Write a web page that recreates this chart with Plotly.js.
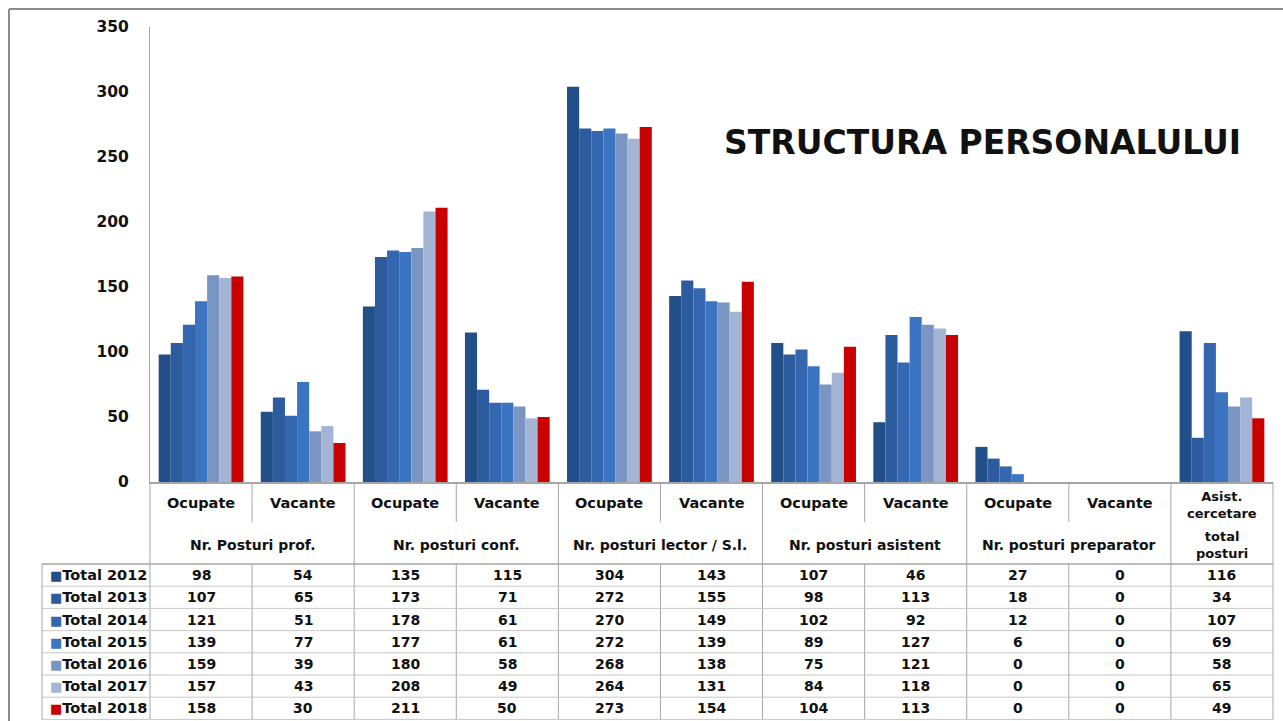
<!DOCTYPE html>
<html>
<head>
<meta charset="utf-8">
<script src="https://cdn.plot.ly/plotly-3.0.1.min.js"></script>
<style>
html,body{margin:0;padding:0;background:#fff;}
#chart{width:1283px;height:721px;}
</style>
</head>
<body>
<div id="chart"></div>
<script>
// ---- data ----
const subLabels = ['Ocupate','Vacante','Ocupate','Vacante','Ocupate','Vacante','Ocupate','Vacante','Ocupate','Vacante','Asist.<br>cercetare'];
const groupLabels = ['Nr. Posturi prof.','Nr. posturi conf.','Nr. posturi lector / S.l.','Nr. posturi asistent','Nr. posturi preparator','total<br>posturi'];
const groupSpans = [2,2,2,2,2,1];
const seriesNames = ['Total 2012','Total 2013','Total 2014','Total 2015','Total 2016','Total 2017','Total 2018'];
const total2012 = [98,54,135,115,304,143,107,46,27,0,116];
const total2013 = [107,65,173,71,272,155,98,113,18,0,34];
const total2014 = [121,51,178,61,270,149,102,92,12,0,107];
const total2015 = [139,77,177,61,272,139,89,127,6,0,69];
const total2016 = [159,39,180,58,268,138,75,121,0,0,58];
const total2017 = [157,43,208,49,264,131,84,118,0,0,65];
const total2018 = [158,30,211,50,273,154,104,113,0,0,49];
const seriesValues = [total2012,total2013,total2014,total2015,total2016,total2017,total2018];
const seriesColors = ['#234F88','#2C5C9E','#3467B0','#3B75C2','#7B95C2','#A3B4D4','#C80000'];
const chartTitle = 'STRUCTURA PERSONALULUI';

// ---- geometry helpers (pixels -> paper) ----
const L = 150, R = 1273, T = 27, B = 482;
const W = 1283, H = 721;
const nCat = subLabels.length;
const px = x => (x - L) / (R - L);
const py = y => (B - y) / (B - T);
const colX = i => (i + 0.5) / nCat;
const bnd = k => k / nCat;

const xIdx = subLabels.map((_, i) => i);

const traces = seriesNames.map((name, s) => ({
  type: 'bar',
  name: name,
  x: xIdx,
  y: seriesValues[s],
  marker: {color: seriesColors[s], line: {width: 0}},
  hoverinfo: 'skip'
}));

const gridGray = '#A6A6A6';
const rowGray = '#C8C8C8';
const shapes = [];
const line = (x0, y0, x1, y1, color, width) => shapes.push({
  type: 'line', xref: 'paper', yref: 'paper', x0, y0, x1, y1,
  line: {color, width}
});

// outer chart border
line(px(9), py(9), px(9), py(H + 5), '#8C8C8C', 2);
line(px(9), py(9), px(W + 5), py(9), '#8C8C8C', 2);

// table geometry
const headTop = 482, subBottom = 522, bodyTop = 564, rowH = 22.2, nRows = seriesNames.length;
const bodyBottom = bodyTop + rowH * nRows;

// group boundaries (full height)
let k = 0;
const groupBounds = [0];
groupSpans.forEach(sp => { k += sp; groupBounds.push(k); });
groupBounds.forEach(b => line(bnd(b), py(headTop), bnd(b), py(bodyBottom), gridGray, 1));
// inner boundaries (within a group)
for (let b = 1; b < nCat; b++) {
  if (groupBounds.includes(b)) continue;
  line(bnd(b), py(headTop), bnd(b), py(subBottom), gridGray, 1);
  line(bnd(b), py(bodyTop), bnd(b), py(bodyBottom), gridGray, 1);
}
// horizontal lines
for (let j = 0; j <= nRows; j++) {
  line(px(42), py(bodyTop + rowH * j), 1, py(bodyTop + rowH * j), j === 0 ? gridGray : rowGray, j === 0 ? 1.5 : 1);
}
line(px(42), py(bodyTop), px(42), py(bodyBottom), gridGray, 1);

const annotations = [];
const bold = (size) => ({family: 'DejaVu Sans', size, color: '#111', weight: 'bold'});

// sub labels
subLabels.forEach((t, i) => annotations.push({
  xref: 'paper', yref: 'paper', x: colX(i), y: py(i === nCat - 1 ? 505 : 503),
  text: t, showarrow: false, font: bold(i === nCat - 1 ? 13 : 14.5), xanchor: 'center', yanchor: 'middle'
}));
// group labels
let start = 0;
groupLabels.forEach((t, g) => {
  const sp = groupSpans[g];
  const cx = (start + sp / 2) / nCat;
  const last = g === groupLabels.length - 1;
  annotations.push({
    xref: 'paper', yref: 'paper', x: cx, y: py(545),
    text: t, showarrow: false, font: bold(last ? 13 : 14), xanchor: 'center', yanchor: 'middle'
  });
  start += sp;
});
// row labels and values
seriesNames.forEach((name, s) => {
  const yc = py(bodyTop + rowH * (s + 0.5));
  annotations.push({
    xref: 'paper', yref: 'paper', x: px(48), y: yc, xanchor: 'left', yanchor: 'middle',
    text: '<span style="color:' + seriesColors[s] + ';font-size:13px">■</span>' + name,
    showarrow: false, font: bold(14.5)
  });
  seriesValues[s].forEach((v, i) => annotations.push({
    xref: 'paper', yref: 'paper', x: colX(i), y: yc, xanchor: 'center', yanchor: 'middle',
    text: String(v), showarrow: false, font: bold(14)
  }));
});
// title
annotations.push({
  xref: 'paper', yref: 'paper', x: px(982), y: py(142), xanchor: 'center', yanchor: 'middle',
  text: chartTitle, showarrow: false,
  font: {family: 'DejaVu Sans', size: 33, color: '#111', weight: 'bold'}
});

const layout = {
  width: W, height: H,
  margin: {l: L, r: W - R, t: T, b: H - B, pad: 0},
  paper_bgcolor: '#fff', plot_bgcolor: '#fff',
  barmode: 'group', bargap: 0.17, bargroupgap: 0,
  showlegend: false,
  xaxis: {
    range: [-0.5, nCat - 0.5], showticklabels: false, showgrid: false, zeroline: false,
    showline: true, linecolor: gridGray, linewidth: 1.5, ticks: '', fixedrange: true
  },
  yaxis: {
    range: [0, 350], dtick: 50, showgrid: false, zeroline: false,
    showline: true, linecolor: gridGray, linewidth: 1, ticks: '',
    ticklabelstandoff: 17,
    tickfont: {family: 'DejaVu Sans', size: 15.5, color: '#111', weight: 'bold'}, fixedrange: true
  },
  shapes, annotations
};

Plotly.newPlot('chart', traces, layout, {staticPlot: true, displayModeBar: false});
</script>
</body>
</html>
